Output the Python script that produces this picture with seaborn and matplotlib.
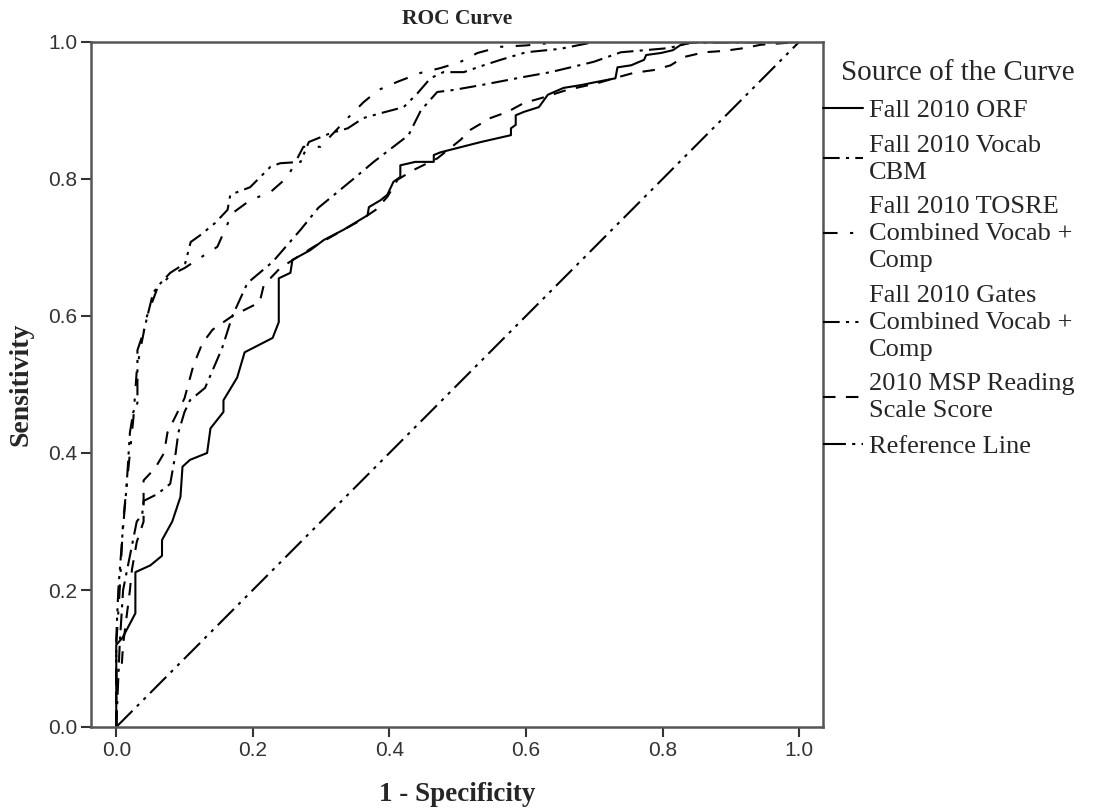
import numpy as np
import pandas as pd
import matplotlib.pyplot as plt
import seaborn as sns

# ROC points: x = 1 - specificity, y = sensitivity
orf_x = [0, 0, 0.009, 0.028, 0.028, 0.05, 0.067, 0.067, 0.082, 0.094, 0.097, 0.108, 0.133, 0.138, 0.157,
         0.157, 0.177, 0.188, 0.229, 0.238, 0.238, 0.255, 0.258, 0.284, 0.304, 0.333, 0.368, 0.37, 0.387,
         0.397, 0.406, 0.416, 0.416, 0.438, 0.465, 0.465, 0.475, 0.534, 0.578, 0.578, 0.585, 0.585, 0.597,
         0.619, 0.632, 0.655, 0.68, 0.705, 0.731, 0.734, 0.754, 0.773, 0.776, 0.798, 0.815, 0.827, 0.846, 1.0]
orf_y = [0, 0.12, 0.13, 0.166, 0.226, 0.236, 0.25, 0.273, 0.30, 0.336, 0.38, 0.39, 0.40, 0.436, 0.46,
         0.477, 0.51, 0.547, 0.568, 0.591, 0.655, 0.663, 0.682, 0.696, 0.711, 0.726, 0.747, 0.759, 0.769,
         0.777, 0.796, 0.803, 0.82, 0.825, 0.825, 0.835, 0.839, 0.854, 0.864, 0.874, 0.879, 0.893, 0.898,
         0.905, 0.923, 0.933, 0.937, 0.942, 0.947, 0.963, 0.966, 0.974, 0.981, 0.984, 0.988, 0.996, 1.0, 1.0]

vocab_x = [0, 0.005, 0.01, 0.02, 0.03, 0.038, 0.04, 0.06, 0.079, 0.087, 0.091, 0.1, 0.108, 0.13, 0.155,
           0.17, 0.192, 0.229, 0.27, 0.296, 0.346, 0.377, 0.428, 0.446, 0.47, 0.494, 0.534, 0.597, 0.636,
           0.699, 0.739, 0.808, 0.842, 1.0]
vocab_y = [0, 0.12, 0.2, 0.25, 0.3, 0.31, 0.33, 0.34, 0.355, 0.4, 0.43, 0.46, 0.477, 0.495, 0.553,
           0.6, 0.648, 0.679, 0.726, 0.758, 0.799, 0.825, 0.864, 0.9, 0.927, 0.93, 0.937, 0.949, 0.956,
           0.971, 0.985, 0.991, 0.999, 1.0]

tosre_x = [0, 0, 0.005, 0.01, 0.015, 0.02, 0.025, 0.03, 0.035, 0.045, 0.06, 0.08, 0.1, 0.123, 0.148,
           0.17, 0.196, 0.226, 0.251, 0.274, 0.299, 0.339, 0.362, 0.384, 0.412, 0.446, 0.475, 0.504, 0.529,
           0.563, 0.6, 0.65, 1.0]
tosre_y = [0, 0.12, 0.2, 0.3, 0.35, 0.4, 0.45, 0.52, 0.55, 0.6, 0.64, 0.66, 0.67, 0.685, 0.701,
           0.75, 0.769, 0.781, 0.803, 0.847, 0.847, 0.889, 0.912, 0.93, 0.942, 0.955, 0.962, 0.971, 0.984,
           0.993, 0.995, 1.0, 1.0]

gates_x = [0, 0, 0.003, 0.009, 0.015, 0.02, 0.025, 0.031, 0.031, 0.04, 0.054, 0.065, 0.079, 0.101, 0.109,
           0.123, 0.145, 0.163, 0.167, 0.196, 0.226, 0.24, 0.27, 0.282, 0.314, 0.339, 0.362, 0.387, 0.421,
           0.441, 0.46, 0.479, 0.509, 0.538, 0.563, 0.6, 0.65, 0.7, 1.0]
gates_y = [0, 0.13, 0.2, 0.28, 0.35, 0.43, 0.46, 0.473, 0.55, 0.577, 0.634, 0.648, 0.663, 0.677, 0.708,
           0.718, 0.736, 0.755, 0.777, 0.788, 0.818, 0.823, 0.825, 0.854, 0.867, 0.874, 0.889, 0.896, 0.905,
           0.925, 0.947, 0.956, 0.956, 0.966, 0.974, 0.985, 0.99, 1.0, 1.0]

msp_x = [0, 0, 0.008, 0.01, 0.02, 0.023, 0.03, 0.04, 0.04, 0.057, 0.07, 0.075, 0.1, 0.113, 0.126,
         0.141, 0.17, 0.21, 0.216, 0.24, 0.289, 0.333, 0.353, 0.38, 0.397, 0.412, 0.435, 0.47, 0.504,
         0.519, 0.548, 0.573, 0.597, 0.622, 0.66, 0.705, 0.729, 0.758, 0.787, 0.812, 0.831, 0.861, 0.89,
         0.919, 0.944, 1.0]
msp_y = [0, 0.09, 0.09, 0.12, 0.2, 0.23, 0.27, 0.3, 0.36, 0.378, 0.4, 0.43, 0.48, 0.528, 0.56,
         0.58, 0.6, 0.62, 0.645, 0.67, 0.701, 0.726, 0.737, 0.755, 0.774, 0.799, 0.813, 0.83, 0.857,
         0.872, 0.889, 0.898, 0.911, 0.918, 0.93, 0.94, 0.947, 0.955, 0.959, 0.966, 0.978, 0.985, 0.987,
         0.991, 0.996, 1.0]

ref_x = [0, 1]
ref_y = [0, 1]

labels = ['Fall 2010 ORF', 'Fall 2010 Vocab\nCBM', 'Fall 2010 TOSRE\nCombined Vocab +\nComp',
          'Fall 2010 Gates\nCombined Vocab +\nComp', '2010 MSP Reading\nScale Score', 'Reference Line']
ticks = [0.0, 0.2, 0.4, 0.6, 0.8, 1.0]

curves = [(orf_x, orf_y, '-'),
          (vocab_x, vocab_y, (0, (8, 3, 1.5, 3))),
          (tosre_x, tosre_y, (0, (7, 6, 1.5, 6))),
          (gates_x, gates_y, (0, (8, 3, 1.5, 3, 1.5, 3))),
          (msp_x, msp_y, (0, (6, 5))),
          (ref_x, ref_y, (0, (11, 3, 1.5, 3, 1.5, 3)))]

sns.set_style('white')
serif = ['Liberation Serif', 'DejaVu Serif']
plt.rcParams['font.family'] = ['Liberation Sans', 'DejaVu Sans']

fig = plt.figure(figsize=(10.94, 8.09), dpi=100)
ax = fig.add_axes([91 / 1094, 1 - 727 / 809, (823 - 91) / 1094, (727 - 42) / 809])

for (cx, cy, ls), lab in zip(curves, labels):
    df = pd.DataFrame({'x': cx, 'y': cy})
    sns.lineplot(data=df, x='x', y='y', ax=ax, sort=False, estimator=None,
                 color='black', lw=1.5, linestyle=ls, label=lab)

ax.set_xlim(-0.037, 1.035)
ax.set_ylim(0, 1)
ax.set_xticks(ticks)
ax.set_yticks(ticks)
ax.set_xticklabels([f'{t:.1f}' for t in ticks])
ax.set_yticklabels([f'{t:.1f}' for t in ticks])
ax.tick_params(axis='both', direction='out', length=7, width=1.5, color='#333333',
               labelsize=15, labelcolor='#333333', pad=3)
ax.tick_params(left=True, bottom=True)
for sp in ax.spines.values():
    sp.set_visible(True)
    sp.set_color('#555555')
    sp.set_linewidth(1.8)

ax.set_title('ROC Curve', family=serif, fontweight='bold', fontsize=15.5, pad=13)
ax.set_xlabel('1 - Specificity', family=serif, fontweight='bold', fontsize=19.5, labelpad=16)
ax.set_ylabel('Sensitivity', family=serif, fontweight='bold', fontsize=20, labelpad=10)

leg = ax.legend(loc='upper left', bbox_to_anchor=(1.0, 0.974), frameon=False,
                title='Source of the Curve', prop={'family': serif, 'size': 19},
                title_fontproperties={'family': serif, 'size': 21}, alignment='right',
                handlelength=1.5, handletextpad=0.25, labelspacing=0.48,
                borderpad=0, borderaxespad=0)
for t in leg.get_texts():
    t.set_linespacing(1.29)

fig.savefig('out.png', dpi=100)
